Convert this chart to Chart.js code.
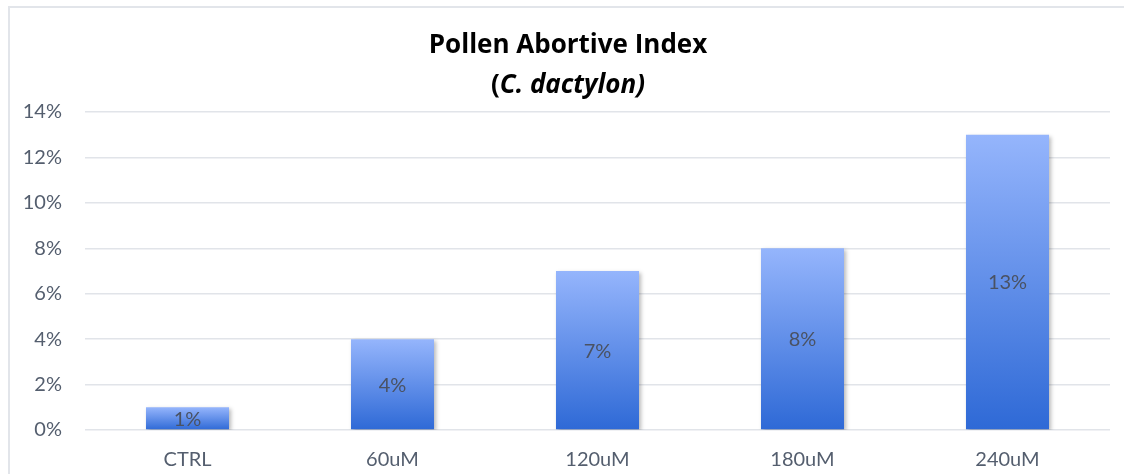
<!DOCTYPE html>
<html>
<head>
<meta charset="utf-8">
<title>Pollen Abortive Index</title>
<script src="https://cdn.jsdelivr.net/npm/chart.js@4.4.1/dist/chart.umd.min.js"></script>
<style>
  html, body { margin: 0; padding: 0; background: #ffffff; overflow: hidden; }
  #wrap { position: relative; width: 1124px; height: 474px; }
  #frame { position: absolute; left: 8px; top: 6px; width: 1200px; height: 600px;
           border: 2px solid #e2e5ea; box-sizing: border-box; pointer-events: none; }
  canvas { position: absolute; left: 0; top: 0; }
</style>
</head>
<body>
<div id="wrap">
  <div id="frame"></div>
  <canvas id="chart" width="1124" height="474"></canvas>
</div>
<script>
// Treatments and their pollen abortive index (%)
const categories = ['CTRL', '60uM', '120uM', '180uM', '240uM'];
const abortiveIndex = [1, 4, 7, 8, 13];
const yTicks = [0, 2, 4, 6, 8, 10, 12, 14];

const titleLine = 'Pollen Abortive Index';
const speciesName = 'C. dactylon';

const FONT = 'Lato, "Open Sans", "DejaVu Sans", sans-serif';
const TITLE_FONT = '"Open Sans", Lato, "DejaVu Sans", sans-serif';
const TEXT_GRAY = '#545e6e';

// Per-bar vertical gradient: light at the top, deep blue at the base
function barGradient(ctx) {
  const chart = ctx.chart;
  if (!chart.chartArea || ctx.type !== 'data') return '#6b93ea';
  const y = chart.scales.y;
  const top = y.getPixelForValue(ctx.raw);
  const base = y.getPixelForValue(0);
  if (!isFinite(top) || !isFinite(base) || top === base) return '#6b93ea';
  const g = chart.ctx.createLinearGradient(0, top, 0, base);
  g.addColorStop(0, '#95b5fc');
  g.addColorStop(1, '#2e69d6');
  return g;
}

// Two-line heading; the species name is set in italics
const titlePlugin = {
  id: 'twoLineTitle',
  afterDraw(chart) {
    const c = chart.ctx;
    const cx = 568;
    c.save();
    c.fillStyle = '#000000';
    c.textBaseline = 'middle';
    c.textAlign = 'center';
    c.font = 'bold 26px ' + TITLE_FONT;
    c.fillText(titleLine, cx, 46);

    const upright = 'bold 26px ' + TITLE_FONT;
    const italic = 'italic bold 26px ' + TITLE_FONT;
    const parts = [['(', upright], [speciesName, italic], [')', italic]];
    let total = 0;
    parts.forEach(p => { c.font = p[1]; total += c.measureText(p[0]).width; });
    let x = cx - total / 2;
    c.textAlign = 'left';
    parts.forEach(p => { c.font = p[1]; c.fillText(p[0], x, 86); x += c.measureText(p[0]).width; });
    c.restore();
  }
};

// Soft drop shadow under the bars
const barShadow = {
  id: 'barShadow',
  beforeDatasetsDraw(chart) {
    const c = chart.ctx;
    c.save();
    c.shadowColor = 'rgba(0,0,0,0.28)';
    c.shadowBlur = 4;
    c.shadowOffsetX = 2;
    c.shadowOffsetY = 2;
  },
  afterDatasetsDraw(chart) {
    chart.ctx.restore();
  }
};

// Value labels centred inside each bar
const centreLabels = {
  id: 'centreLabels',
  afterDatasetsDraw(chart) {
    const c = chart.ctx;
    const meta = chart.getDatasetMeta(0);
    c.save();
    c.fillStyle = '#4a5263';
    c.font = '20px ' + FONT;
    c.textAlign = 'center';
    c.textBaseline = 'middle';
    meta.data.forEach((bar, i) => {
      const v = chart.data.datasets[0].data[i];
      c.fillText(v + '%', bar.x, (bar.y + bar.base) / 2 + 1);
    });
    c.restore();
  }
};

new Chart(document.getElementById('chart'), {
  type: 'bar',
  data: {
    labels: categories,
    datasets: [{
      label: 'Pollen Abortive Index',
      data: abortiveIndex,
      backgroundColor: barGradient,
      borderWidth: 0,
      barPercentage: 0.405,
      categoryPercentage: 1.0
    }]
  },
  options: {
    responsive: false,
    animation: false,
    devicePixelRatio: 1,
    layout: { padding: { top: 112, right: 14, left: 0, bottom: 0 } },
    plugins: {
      legend: { display: false },
      title: { display: false },
      tooltip: { enabled: false }
    },
    scales: {
      x: {
        grid: { display: false, drawTicks: false },
        border: { display: false },
        ticks: { color: TEXT_GRAY, font: { family: FONT, size: 20 }, padding: 18 },
        afterFit(scale) { scale.height = 44; }
      },
      y: {
        min: yTicks[0],
        max: yTicks[yTicks.length - 1],
        afterBuildTicks(scale) { scale.ticks = yTicks.map(v => ({ value: v })); },
        grid: { color: '#e1e4e9', lineWidth: 1.5, drawTicks: false },
        border: { display: false },
        ticks: {
          color: TEXT_GRAY,
          font: { family: FONT, size: 20 },
          padding: 23,
          callback: v => v + '%'
        },
        afterFit(scale) { scale.width = 85; }
      }
    }
  },
  plugins: [barShadow, centreLabels, titlePlugin]
});
</script>
</body>
</html>
